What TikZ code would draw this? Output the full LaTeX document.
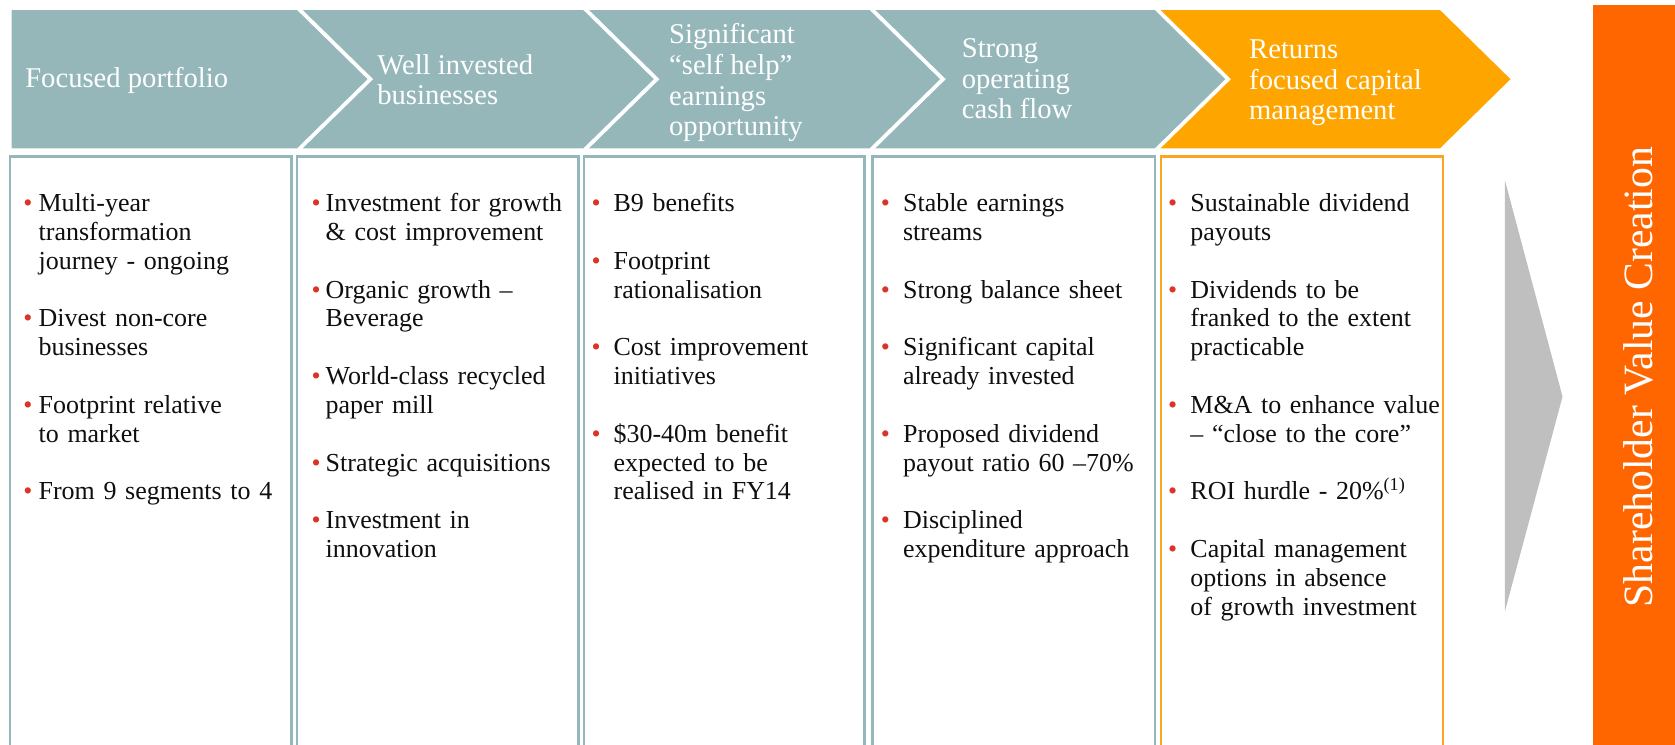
\documentclass[tikz,border=0pt]{standalone}
\usepackage{fontspec}
\setmainfont{Liberation Serif}
\usepackage{xcolor}

\definecolor{chevteal}{RGB}{149,183,186}
\definecolor{chevorange}{RGB}{255,165,0}
\definecolor{boxteal}{RGB}{147,183,187}
\definecolor{boxorange}{RGB}{251,166,32}
\definecolor{barorange}{RGB}{255,102,0}
\definecolor{arrowgray}{RGB}{191,191,191}
\definecolor{bulletred}{RGB}{218,52,40}
\definecolor{bodyink}{RGB}{15,15,15}

% bullet centred #1 to the left of the text start
\newcommand\bul[1]{\leavevmode\llap{\makebox[0pt]{\textcolor{bulletred}{\textbullet}}\hspace{#1}}}
\newcommand\gap{\\[13.5pt]}

\tikzset{
  headtext/.style={text=white, font=\fontsize{13.4}{14.3}\selectfont,
    align=left, anchor=west, inner sep=0pt},
  bodytext/.style={text=bodyink, font=\fontsize{12.15}{13.5}\selectfont,
    align=left, text width=130pt, anchor=base west, inner sep=0pt},
  colbox/.style={draw=boxteal, line width=1.2pt},
  lastbox/.style={draw=boxorange, line width=1.2pt},
}

\begin{document}
\begin{tikzpicture}[x=0.5pt,y=-0.5pt]
\useasboundingbox (0,0) rectangle (1568,697);
\clip (0,0) rectangle (1568,697);

% process chevrons
\fill[chevteal] (10.8,9.4) -- (278,9.4) -- (344,74.1) -- (278,138.8) -- (10.8,138.8) -- cycle;
\foreach \L/\R/\c in {283.5/546/chevteal, 551.5/814/chevteal,
                      819.5/1081/chevteal, 1086.5/1348/chevorange}
  \fill[\c] (\L,9.4) -- (\R,9.4) -- (\R+66,74.1) -- (\R,138.8)
            -- (\L,138.8) -- (\L+66,74.1) -- cycle;

% chevron captions
\node[headtext] (h1) at (23.3,75) {Focused portfolio};
\node[headtext] (h2) at (352.8,74.5) {Well invested\\businesses};
\node[headtext] (h3) at (626,77.5) {Significant\\“self help”\\earnings\\opportunity};
\node[headtext] (h4) at (900,74) {Strong\\operating\\cash flow};
\node[headtext] (h5) at (1169,77.5) {Returns\\focused capital\\management};

% column frames (open at the bottom edge)
\draw[colbox] (9.5,720) -- (9.5,146.5) -- (272.8,146.5) -- (272.8,720);
\draw[colbox] (278,720) -- (278,146.5) -- (541.5,146.5) -- (541.5,720);
\draw[colbox] (546.5,720) -- (546.5,146.5) -- (809.5,146.5) -- (809.5,720);
\draw[colbox] (817,720) -- (817,146.5) -- (1081,146.5) -- (1081,720);
\draw[lastbox] (1086.7,720) -- (1086.7,146.5) -- (1350.8,146.5) -- (1350.8,720);

% column texts
\node[bodytext] (c1) at (35.8,198) {%
\bul{5pt}Multi-year\\transformation\\journey - ongoing\gap
\bul{5pt}Divest non-core\\businesses\gap
\bul{5pt}Footprint relative\\to market\gap
\bul{5pt}From 9 segments to 4};

\node[bodytext] (c2) at (304.5,198) {%
\bul{4.5pt}Investment for growth\\\& cost improvement\gap
\bul{4.5pt}Organic growth –\\Beverage\gap
\bul{4.5pt}World-class recycled\\paper mill\gap
\bul{4.5pt}Strategic acquisitions\gap
\bul{4.5pt}Investment in\\innovation};

\node[bodytext] (c3) at (574,198) {%
\bul{8.2pt}B9 benefits\gap
\bul{8.2pt}Footprint\\rationalisation\gap
\bul{8.2pt}Cost improvement\\initiatives\gap
\bul{8.2pt}\$30-40m benefit\\expected to be\\realised in FY14};

\node[bodytext] (c4) at (845,198) {%
\bul{8.3pt}Stable earnings\\streams\gap
\bul{8.3pt}Strong balance sheet\gap
\bul{8.3pt}Significant capital\\already invested\gap
\bul{8.3pt}Proposed dividend\\payout ratio 60 –70\%\gap
\bul{8.3pt}Disciplined\\expenditure approach};

\node[bodytext] (c5) at (1114,198) {%
\bul{8.35pt}Sustainable dividend\\payouts\gap
\bul{8.35pt}Dividends to be\\franked to the extent\\practicable\gap
\bul{8.35pt}M\&A to enhance value\\– “close to the core”\gap
\bul{8.35pt}ROI hurdle - 20\%\textsuperscript{(1)}\gap
\bul{8.35pt}Capital management\\options in absence\\of growth investment};

% outcome pointer and banner
\fill[arrowgray] (1408.7,168.5) -- (1462.7,371.3) -- (1408.7,572.5) -- cycle;
\fill[barorange] (1491,4.7) rectangle (1580,710);
\node[rotate=90, anchor=base, text=white, inner sep=0pt,
      font=\fontsize{19.5}{20}\selectfont] (svc) at (1547,353) {Shareholder Value Creation};
\end{tikzpicture}
\end{document}
